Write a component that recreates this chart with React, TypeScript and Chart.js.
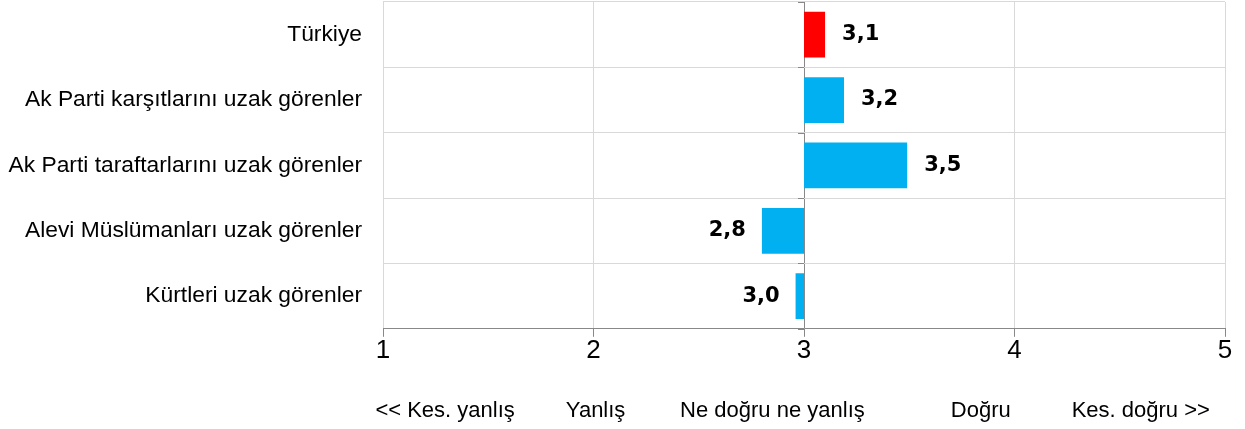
import React, { useEffect, useRef } from "react";
import { Chart, registerables } from "chart.js";

Chart.register(...registerables);

const categories = [
  "Türkiye",
  "Ak Parti karşıtlarını uzak görenler",
  "Ak Parti taraftarlarını uzak görenler",
  "Alevi Müslümanları uzak görenler",
  "Kürtleri uzak görenler",
];
const BASE = 3;
const values = [3.1, 3.19, 3.49, 2.8, 2.96];
const barColors = ["#FF0000", "#00B0F0", "#00B0F0", "#00B0F0", "#00B0F0"];
const xTicks = [1, 2, 3, 4, 5];
const scaleLabels = ["<< Kes. yanlış", "Yanlış", "Ne doğru ne yanlış", "Doğru", "Kes. doğru >>"];
const scaleLabelPositions = [1.295, 2.01, 2.85, 3.84, 4.6];

const fmt = (v: number) => v.toFixed(1).replace(".", ",");

const overlayPlugin = {
  id: "overlay",
  afterDatasetsDraw(chart: any) {
    const ctx = chart.ctx;
    const x = chart.scales.x;
    const area = chart.chartArea;
    ctx.save();
    // small tick marks on the axis at value 3
    const px3 = x.getPixelForValue(BASE);
    ctx.strokeStyle = "#888888";
    ctx.lineWidth = 1;
    const n = categories.length;
    const step = (area.bottom - area.top) / n;
    for (let i = 0; i <= n; i++) {
      const yy = Math.round(area.top + i * step) + 0.5;
      ctx.beginPath();
      ctx.moveTo(px3 - 6, yy);
      ctx.lineTo(px3, yy);
      ctx.stroke();
    }
    // data labels
    ctx.fillStyle = "#000";
    ctx.font = "bold 21px 'DejaVu Sans'";
    ctx.textBaseline = "middle";
    const meta = chart.getDatasetMeta(0);
    meta.data.forEach((bar: any, i: number) => {
      const v = values[i];
      const end = x.getPixelForValue(v);
      const yy = bar.y;
      if (v >= BASE) {
        ctx.textAlign = "left";
        ctx.fillText(fmt(v), end + 17, yy);
      } else {
        ctx.textAlign = "right";
        ctx.fillText(fmt(v), end - 16, yy);
      }
    });
    // bottom scale labels
    ctx.font = "22px 'Liberation Sans'";
    ctx.textAlign = "center";
    ctx.fillStyle = "#000";
    scaleLabels.forEach((t, i) => {
      ctx.fillText(t, x.getPixelForValue(scaleLabelPositions[i]), 411);
    });
    ctx.restore();
  },
};

export default function App() {
  const ref = useRef<HTMLCanvasElement>(null);
  useEffect(() => {
    const chart = new Chart(ref.current!, {
      type: "bar",
      data: {
        labels: categories,
        datasets: [
          {
            data: values.map((v) => [BASE, v]) as any,
            backgroundColor: barColors,
            borderWidth: 0,
            categoryPercentage: 1,
            barPercentage: 0.7,
          },
        ],
      },
      options: {
        indexAxis: "y",
        animation: false,
        responsive: false,
        layout: { padding: { top: 2, right: 20, bottom: 65, left: 0 } },
        plugins: { legend: { display: false }, tooltip: { enabled: false } },
        scales: {
          x: {
            min: 1,
            max: 5,
            afterBuildTicks: (s: any) => {
              s.ticks = xTicks.map((v) => ({ value: v }));
            },
            ticks: {
              color: "#000",
              font: { size: 26, family: "'Liberation Sans'" },
              padding: -2,
              maxRotation: 0,
            },
            grid: {
              color: (c: any) => (c.tick && c.tick.value === 3 ? "#888888" : "#D9D9D9"),
              tickColor: "#888888",
              tickLength: 8,
              lineWidth: 1,
            },
            border: { display: true, color: "#888888", width: 1 },
          },
          y: {
            afterFit: (s: any) => {
              s.width = 383;
              s.paddingTop = 0;
              s.paddingBottom = 0;
            },
            ticks: {
              color: "#000",
              font: { size: 22.8, family: "'Liberation Sans'" },
              padding: 21,
            },
            grid: { offset: true, color: "#D9D9D9", drawTicks: false, lineWidth: 1 },
            border: { display: false },
          },
        },
      },
      plugins: [overlayPlugin],
    });
    return () => chart.destroy();
  }, []);
  return (
    <div style={{ position: "fixed", left: 0, top: 0, width: 1245, height: 429, background: "#fff" }}>
      <canvas ref={ref} width={1245} height={429} style={{ display: "block" }} />
    </div>
  );
}
